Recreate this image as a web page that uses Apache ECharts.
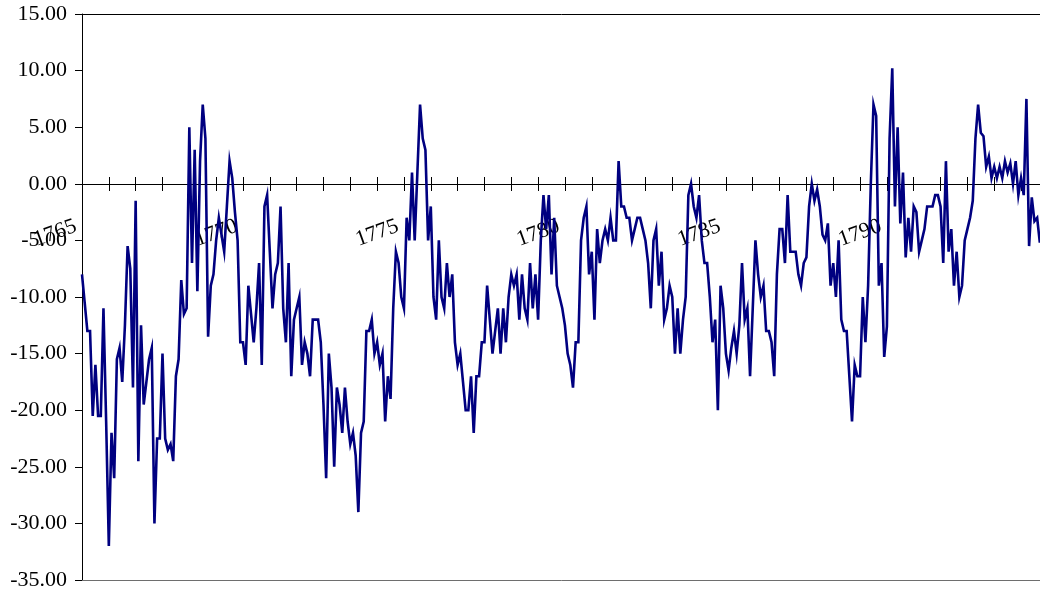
<!DOCTYPE html>
<html>
<head>
<meta charset="utf-8">
<script src="https://cdn.jsdelivr.net/npm/echarts@6/dist/echarts.min.js"></script>
<style>
  html, body { margin: 0; padding: 0; background: #ffffff; }
  #chart { width: 1040px; height: 596px; }
</style>
</head>
<body>
<div id="chart"></div>
<script>
// Monthly series; the first reading is November 1765.
const startYear = 1765;
const firstMonth = 10;          // months counted from January 1765
const yearLabels = [1765, 1770, 1775, 1780, 1785, 1790];
const yTicks = [-35, -30, -25, -20, -15, -10, -5, 0, 5, 10, 15];

const values = [
  -8, -10.5, -13, -13, -20.5, -16, -20.5, -20.5, -11, -21,
  -32, -22, -26, -15.5, -14.5, -17.5, -12.5, -5.5, -7.5, -18,
  -1.5, -24.5, -12.5, -19.5, -17.5, -15.5, -14.5, -30, -22.5, -22.5,
  -15, -22.5, -23.5, -23, -24.5, -17, -15.5, -8.5, -11.5, -11,
  5, -7, 3, -9.5, 2, 7, 4, -13.5, -9, -8,
  -5, -3, -4.5, -6, -2, 2, 0.5, -2.5, -5, -14,
  -14, -16, -9, -11.5, -14, -11, -7, -16, -2, -1,
  -6, -11, -8, -7, -2, -11, -14, -7, -17, -12,
  -11, -10, -16, -14, -15, -17, -12, -12, -12, -14,
  -19.5, -26, -15, -18, -25, -18, -19.5, -22, -18, -21,
  -23, -22, -24, -29, -22, -21, -13, -13, -12, -15,
  -14, -16, -15, -21, -17, -19, -11, -6, -7, -10,
  -11, -3, -5, 1, -5, 1, 7, 4, 3, -5,
  -2, -10, -12, -5, -10, -11, -7, -10, -8, -14,
  -16, -15, -17.5, -20, -20, -17, -22, -17, -17, -14,
  -14, -9, -12, -15, -13, -11, -15, -11, -14, -10,
  -8, -9, -8, -12, -8, -11, -12, -7, -11, -8,
  -12, -5, -1, -4, -1, -8, -3, -9, -10, -11,
  -12.5, -15, -16, -18, -14, -14, -5, -3, -2, -8,
  -6, -12, -4, -7, -5, -4, -5, -3, -5, -5,
  2, -2, -2, -3, -3, -5, -4, -3, -3, -4,
  -5, -7, -11, -5, -4, -9, -6, -12, -11, -9,
  -10, -15, -11, -15, -12, -10, -1, 0, -2, -3,
  -1, -5, -7, -7, -10, -14, -12, -20, -9, -11,
  -15, -16.5, -14.5, -13, -15, -12.5, -7, -12, -11, -17,
  -11, -5, -8, -10, -9, -13, -13, -14, -17, -8,
  -4, -4, -7, -1, -6, -6, -6, -8, -9, -7,
  -6.5, -2, 0, -1.5, -0.5, -2, -4.5, -5, -3.5, -9,
  -7, -10, -5, -12, -13, -13, -17, -21, -16, -17,
  -17, -10, -14, -9, 0, 7, 6, -9, -7, -15.3,
  -12.6, 4, 10.2, -2, 5, -3.5, 1, -6.5, -3, -6,
  -2, -2.5, -6, -5, -4, -2, -2, -2, -1, -1,
  -2, -7, 2, -6, -4, -9, -6, -10, -9, -5,
  -4, -3, -1.5, 4, 7, 4.5, 4.2, 1.5, 2.4, 0.5,
  1.5, 0.5, 1.5, 0.5, 2, 1, 1.8, 0, 2, -1,
  0.5, -1, 7.5, -5.5, -1.2, -3.3, -3, -5.2
];

const serif = '"Liberation Serif", "Times New Roman", serif';
const xMin = firstMonth;            // first month shown in the plot
const xMax = firstMonth + 360;      // thirty years of months
const tickStep = 10;                // a tick every ten months
const monthPx = 2.683;
const plotLeft = 82;
const plotWidth = (xMax - xMin) * monthPx;   // runs a little past the right edge
const plotTop = 14;
const plotHeight = 566;
const zeroY = 184;                  // pixel row of the zero line

const seriesData = values.map((v, i) => [firstMonth + i, v]);

const hiddenY = (grid) => ({ gridIndex: grid, type: 'value', min: 0, max: 1, show: false });
const plainX = (grid, extra) => Object.assign({
  gridIndex: grid, type: 'value', min: xMin, max: xMax, interval: tickStep,
  axisLine: { show: false, onZero: false },
  axisTick: { show: false }, axisLabel: { show: false }, splitLine: { show: false }
}, extra);

const chart = echarts.init(document.getElementById('chart'), null, { renderer: 'canvas' });
chart.setOption({
  animation: false,
  backgroundColor: '#ffffff',
  grid: [
    // plot area
    { left: plotLeft, width: plotWidth, top: plotTop, height: plotHeight, outerBoundsMode: 'none' },
    // upper half: zero line with ticks pointing up
    { left: plotLeft, width: plotWidth, top: plotTop, height: zeroY - plotTop, outerBoundsMode: 'none' },
    // lower half: ticks pointing down from the zero line
    { left: plotLeft, width: plotWidth, top: zeroY, height: plotTop + plotHeight - zeroY, outerBoundsMode: 'none' },
    // year labels; starts one tick before the plot so 1765 can be shown
    { left: plotLeft - tickStep * monthPx, width: plotWidth + tickStep * monthPx,
      top: plotTop, height: zeroY - plotTop, outerBoundsMode: 'none' }
  ],
  xAxis: [
    plainX(0, { position: 'bottom',
      axisLine: { show: true, onZero: false, lineStyle: { color: '#6e6e6e', width: 1 } } }),
    plainX(0, { position: 'top',
      axisLine: { show: true, onZero: false, lineStyle: { color: '#000000', width: 1 } } }),
    plainX(1, { position: 'bottom',
      axisLine: { show: true, onZero: false, lineStyle: { color: '#000000', width: 1 } },
      axisTick: { show: true, inside: true, length: 7, lineStyle: { color: '#000000', width: 1 } } }),
    plainX(2, { position: 'top',
      axisTick: { show: true, inside: true, length: 7, lineStyle: { color: '#000000', width: 1 } } }),
    {
      gridIndex: 3, type: 'value', position: 'bottom',
      min: 0, max: xMax, interval: tickStep,
      axisLine: { show: false, onZero: false },
      axisTick: { show: false },
      splitLine: { show: false },
      axisLabel: {
        show: true, showMinLabel: true, showMaxLabel: true,
        rotate: 20, margin: 49, align: 'center', verticalAlign: 'middle',
        fontFamily: serif, fontSize: 22, color: '#000000',
        formatter: (v) => {
          const m = Math.round(v);
          if (m % 12 !== 0) return '';
          const yr = startYear + m / 12;
          return yearLabels.indexOf(yr) >= 0 ? String(yr) : '';
        }
      }
    }
  ],
  yAxis: [
    {
      gridIndex: 0, type: 'value', position: 'left',
      min: yTicks[0], max: yTicks[yTicks.length - 1], interval: 5,
      axisLine: { show: true, onZero: false, lineStyle: { color: '#000000', width: 1 } },
      axisTick: { show: true, length: 7, lineStyle: { color: '#000000', width: 1 } },
      splitLine: { show: false },
      axisLabel: {
        margin: 15, fontFamily: serif, fontSize: 22, color: '#000000',
        padding: [3, 0, 0, 0],
        formatter: (v) => v.toFixed(2)
      }
    },
    hiddenY(1), hiddenY(2), hiddenY(3)
  ],
  series: [{
    type: 'line',
    xAxisIndex: 0, yAxisIndex: 0,
    data: seriesData,
    showSymbol: false,
    symbol: 'none',
    lineStyle: { color: '#000080', width: 2.6, join: 'miter' },
    z: 5
  }]
});
</script>
</body>
</html>
